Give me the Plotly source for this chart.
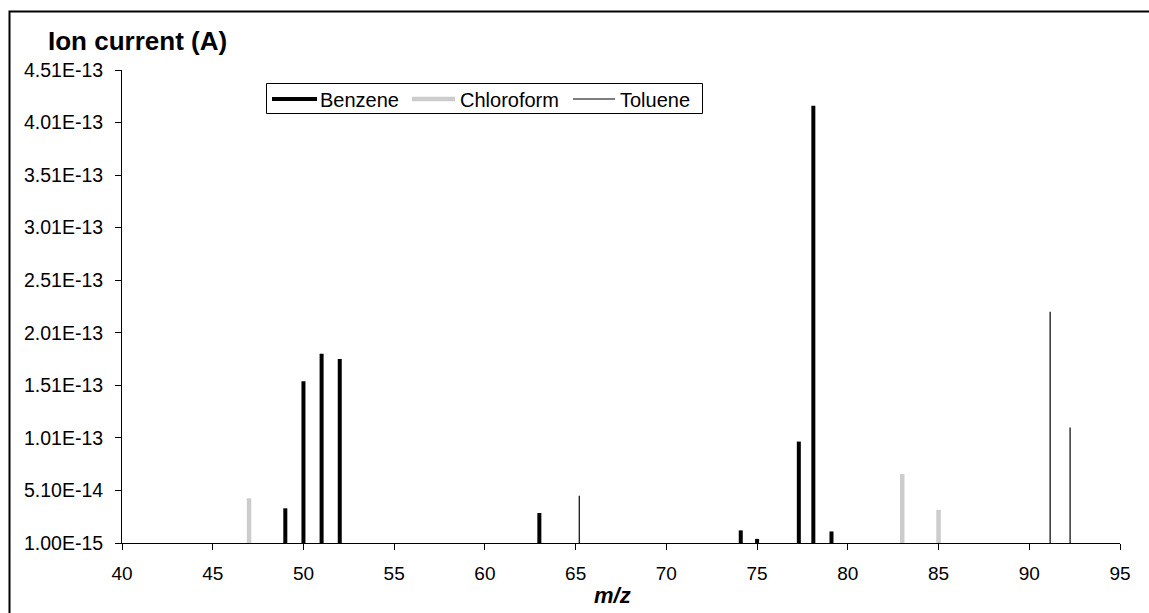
import plotly.graph_objects as go

# Mass spectrum peaks (m/z, ion current in A)
benzene_mz = [49, 50, 51, 52, 63, 74.1, 75, 77.3, 78.1, 79.1]
benzene_current = [3.4e-14, 1.55e-13, 1.81e-13, 1.76e-13, 2.95e-14,
                   1.3e-14, 4.9e-15, 9.75e-14, 4.17e-13, 1.2e-14]

chloroform_mz = [47, 83, 85]
chloroform_current = [4.35e-14, 6.65e-14, 3.25e-14]

toluene_mz = [65.2, 91.15, 92.25]
toluene_current = [4.6e-14, 2.21e-13, 1.11e-13]

baseline = 1.00e-15
y_tick_values = [1.00e-15, 5.10e-14, 1.01e-13, 1.51e-13, 2.01e-13,
                 2.51e-13, 3.01e-13, 3.51e-13, 4.01e-13, 4.51e-13]
y_tick_labels = ["1.00E-15", "5.10E-14", "1.01E-13", "1.51E-13", "2.01E-13",
                 "2.51E-13", "3.01E-13", "3.51E-13", "4.01E-13", "4.51E-13"]
x_tick_values = [40, 45, 50, 55, 60, 65, 70, 75, 80, 85, 90, 95]

FONT = "Liberation Sans, Arial, sans-serif"

W, H = 1149, 613
ML, MR, MT, MB = 122, 29, 70, 70
PW, PH = W - ML - MR, H - MT - MB


def px_x(px):
    return (px - ML) / PW


def px_y(py):
    return (H - MB - py) / PH


def stick_path(mz, current):
    """Vertical sticks from the baseline up to each peak, gaps between."""
    xs, ys = [], []
    for m, c in zip(mz, current):
        xs += [m, m, None]
        ys += [baseline, c, None]
    return xs, ys


series = [
    ("Benzene", benzene_mz, benzene_current, "#000000", 4),
    ("Chloroform", chloroform_mz, chloroform_current, "#CCCCCC", 4.5),
    ("Toluene", toluene_mz, toluene_current, "#000000", 1.2),
]

fig = go.Figure()
for name, mz, cur, color, width in series:
    xs, ys = stick_path(mz, cur)
    fig.add_trace(go.Scatter(
        x=xs, y=ys, mode="lines", name=name,
        line=dict(color=color, width=width),
        connectgaps=False, hoverinfo="skip", showlegend=False,
    ))

# Legend box drawn as a framed row of line keys and labels
legend_box = (266.5, 83.5, 702.5, 113.5)
legend_keys = [(272, 317, 320), (412, 455, 460), (573, 615, 620)]
legend_mid_y = 99

shapes = [
    # chart-area frame
    dict(type="rect", xref="paper", yref="paper",
         x0=px_x(9.5), x1=1.2, y0=-0.3, y1=px_y(11.5),
         line=dict(color="black", width=2), fillcolor="rgba(0,0,0,0)",
         layer="below"),
    dict(type="rect", xref="paper", yref="paper",
         x0=px_x(legend_box[0]), x1=px_x(legend_box[2]),
         y0=px_y(legend_box[3]), y1=px_y(legend_box[1]),
         line=dict(color="black", width=1), fillcolor="white", layer="above"),
]
annotations = [
    dict(text="<b>Ion current (A)</b>", xref="paper", yref="paper",
         x=px_x(46), y=px_y(41), xanchor="left", yanchor="middle",
         showarrow=False, font=dict(family=FONT, size=26, color="black")),
    dict(text="<b><i>m/z</i></b>", xref="paper", yref="paper",
         x=px_x(612), y=px_y(595), xanchor="center", yanchor="middle",
         showarrow=False, font=dict(family=FONT, size=22, color="black")),
]
for (name, _, _, color, width), (k0, k1, tx) in zip(series, legend_keys):
    shapes.append(dict(type="line", xref="paper", yref="paper",
                       x0=px_x(k0), x1=px_x(k1),
                       y0=px_y(legend_mid_y), y1=px_y(legend_mid_y),
                       line=dict(color=color, width=width), layer="above"))
    annotations.append(dict(text=name, xref="paper", yref="paper",
                            x=px_x(tx), y=px_y(legend_mid_y + 0.5),
                            xanchor="left", yanchor="middle", showarrow=False,
                            xshift=-2,
                            font=dict(family=FONT, size=20, color="black")))

fig.update_layout(
    width=W, height=H,
    margin=dict(l=ML, r=MR, t=MT, b=MB),
    paper_bgcolor="white", plot_bgcolor="white",
    font=dict(family=FONT, size=19, color="black"),
    showlegend=False,
    xaxis=dict(
        range=[40, 95], tickvals=x_tick_values,
        showgrid=False, zeroline=False,
        showline=True, linecolor="black", linewidth=1,
        ticks="outside", ticklen=6, tickcolor="black", tickwidth=1,
        ticklabelstandoff=7,
        tickfont=dict(size=19), fixedrange=True,
    ),
    yaxis=dict(
        range=[baseline, 4.51e-13], tickvals=y_tick_values, ticktext=y_tick_labels,
        showgrid=False, zeroline=False,
        showline=True, linecolor="black", linewidth=1,
        ticks="outside", ticklen=6, tickcolor="black", tickwidth=1,
        ticklabelstandoff=8,
        tickfont=dict(size=19.5), fixedrange=True,
    ),
    shapes=shapes,
    annotations=annotations,
)

fig.write_html("out.html")
